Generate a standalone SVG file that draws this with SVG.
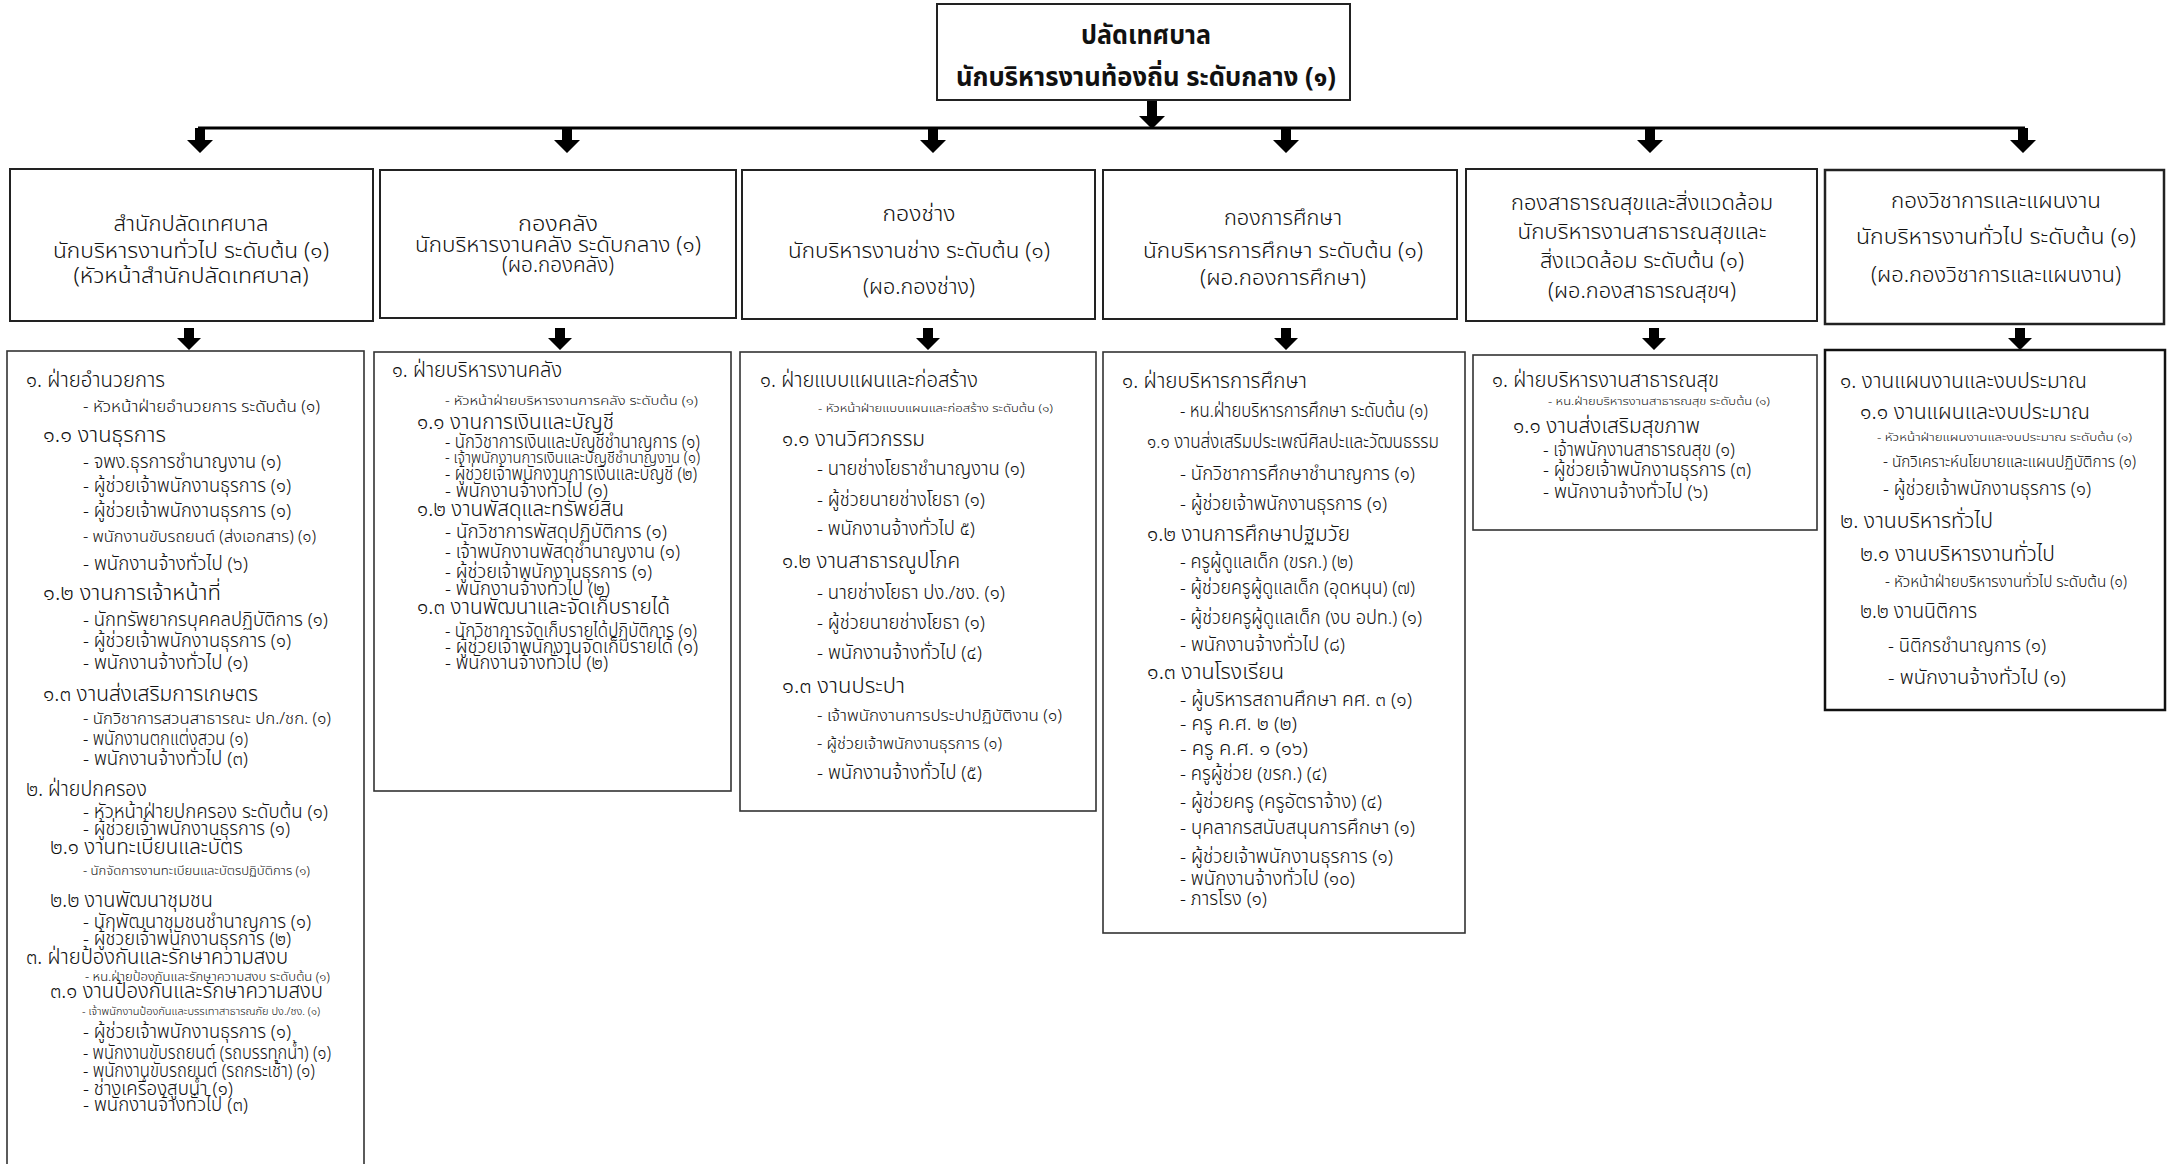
<svg xmlns="http://www.w3.org/2000/svg" width="2168" height="1164" viewBox="0 0 2168 1164">
<style>
text{font-family:"Noto Sans Thai","Noto Sans","DejaVu Sans",sans-serif;fill:#111;font-weight:300}
.box{fill:#fff;stroke:#222;stroke-width:2}
.lbox{fill:#fff;stroke:#333;stroke-width:1.6}
.arw{fill:#000}
.ln{stroke:#000;stroke-width:3;fill:none}
.top{font-size:27px;font-weight:bold;text-anchor:middle}
.hd{font-size:21px;text-anchor:middle}
.b1{font-size:22px}
.b2{font-size:19px}
.b3{font-size:16px}
.b4{font-size:13px}
.b5{font-size:11px}
</style>
<defs>
<path id="aUp" d="M-5,0 H5 V12 H13 L0,25 L-13,12 H-5 Z"/>
<path id="aLo" d="M-5,0 H5 V10 H12 L0,22 L-12,10 H-5 Z"/>
</defs>

<g id="connectors">
<path class="arw" d="M1147,100 H1157 V116 H1165 L1152,129 L1139,116 H1147 Z"/>
<line class="ln" x1="198" y1="128" x2="2025" y2="128"/>
<use href="#aUp" class="arw" x="200" y="128"/>
<use href="#aUp" class="arw" x="567" y="128"/>
<use href="#aUp" class="arw" x="933" y="128"/>
<use href="#aUp" class="arw" x="1286" y="128"/>
<use href="#aUp" class="arw" x="1650" y="128"/>
<use href="#aUp" class="arw" x="2023" y="128"/>
<use href="#aLo" class="arw" x="189" y="328"/>
<use href="#aLo" class="arw" x="560" y="328"/>
<use href="#aLo" class="arw" x="928" y="328"/>
<use href="#aLo" class="arw" x="1286" y="328"/>
<use href="#aLo" class="arw" x="1654" y="328"/>
<use href="#aLo" class="arw" x="2020" y="328"/>
</g>

<g id="n-top">
<rect class="box" x="937" y="4" width="413" height="96"/>
<text class="top" x="1146" y="44" textLength="130" lengthAdjust="spacingAndGlyphs">ปลัดเทศบาล</text>
<text class="top" x="1146" y="86" textLength="380" lengthAdjust="spacingAndGlyphs">นักบริหารงานท้องถิ่น ระดับกลาง (๑)</text>
</g>

<g id="n-h1">
<rect class="box" x="10" y="169" width="363" height="152"/>
<text class="hd" x="191" y="231" textLength="155" lengthAdjust="spacingAndGlyphs">สำนักปลัดเทศบาล</text>
<text class="hd" x="191" y="258" textLength="276" lengthAdjust="spacingAndGlyphs">นักบริหารงานทั่วไป ระดับต้น (๑)</text>
<text class="hd" x="191" y="283" textLength="235" lengthAdjust="spacingAndGlyphs">(หัวหน้าสำนักปลัดเทศบาล)</text>
</g>
<g id="n-h2">
<rect class="box" x="380" y="170" width="356" height="148"/>
<text class="hd" x="558" y="231" textLength="80" lengthAdjust="spacingAndGlyphs">กองคลัง</text>
<text class="hd" x="558" y="252" textLength="286" lengthAdjust="spacingAndGlyphs">นักบริหารงานคลัง ระดับกลาง (๑)</text>
<text class="hd" x="558" y="272" textLength="112" lengthAdjust="spacingAndGlyphs">(ผอ.กองคลัง)</text>
</g>
<g id="n-h3">
<rect class="box" x="742" y="170" width="353" height="149"/>
<text class="hd" x="919" y="221" textLength="73" lengthAdjust="spacingAndGlyphs">กองช่าง</text>
<text class="hd" x="919" y="258" textLength="262" lengthAdjust="spacingAndGlyphs">นักบริหารงานช่าง ระดับต้น (๑)</text>
<text class="hd" x="919" y="294" textLength="112" lengthAdjust="spacingAndGlyphs">(ผอ.กองช่าง)</text>
</g>
<g id="n-h4">
<rect class="box" x="1103" y="170" width="354" height="149"/>
<text class="hd" x="1283" y="225" textLength="118" lengthAdjust="spacingAndGlyphs">กองการศึกษา</text>
<text class="hd" x="1283" y="258" textLength="280" lengthAdjust="spacingAndGlyphs">นักบริหารการศึกษา ระดับต้น (๑)</text>
<text class="hd" x="1283" y="285" textLength="166" lengthAdjust="spacingAndGlyphs">(ผอ.กองการศึกษา)</text>
</g>
<g id="n-h5">
<rect class="box" x="1466" y="169" width="351" height="152"/>
<text class="hd" x="1642" y="210" textLength="262" lengthAdjust="spacingAndGlyphs">กองสาธารณสุขและสิ่งแวดล้อม</text>
<text class="hd" x="1642" y="239" textLength="249" lengthAdjust="spacingAndGlyphs">นักบริหารงานสาธารณสุขและ</text>
<text class="hd" x="1642" y="268" textLength="204" lengthAdjust="spacingAndGlyphs">สิ่งแวดล้อม ระดับต้น (๑)</text>
<text class="hd" x="1642" y="298" textLength="188" lengthAdjust="spacingAndGlyphs">(ผอ.กองสาธารณสุขฯ)</text>
</g>
<g id="n-h6">
<rect class="box" x="1825" y="170" width="339" height="154" style="stroke-width:2.5"/>
<text class="hd" x="1996" y="208" textLength="210" lengthAdjust="spacingAndGlyphs">กองวิชาการและแผนงาน</text>
<text class="hd" x="1996" y="244" textLength="280" lengthAdjust="spacingAndGlyphs">นักบริหารงานทั่วไป ระดับต้น (๑)</text>
<text class="hd" x="1996" y="282" textLength="250" lengthAdjust="spacingAndGlyphs">(ผอ.กองวิชาการและแผนงาน)</text>
</g>

<g id="n-l1">
<rect class="lbox" x="7" y="351" width="357" height="830"/>
<text class="b1" x="26" y="387" textLength="139" lengthAdjust="spacingAndGlyphs">๑. ฝ่ายอำนวยการ</text>
<text class="b3" x="83" y="412" textLength="237" lengthAdjust="spacingAndGlyphs">- หัวหน้าฝ่ายอำนวยการ ระดับต้น (๑)</text>
<text class="b1" x="43" y="442" textLength="123" lengthAdjust="spacingAndGlyphs">๑.๑ งานธุรการ</text>
<text class="b2" x="83" y="468" textLength="198" lengthAdjust="spacingAndGlyphs">- จพง.ธุรการชำนาญงาน (๑)</text>
<text class="b2" x="83" y="492" textLength="208" lengthAdjust="spacingAndGlyphs">- ผู้ช่วยเจ้าพนักงานธุรการ (๑)</text>
<text class="b2" x="83" y="517" textLength="208" lengthAdjust="spacingAndGlyphs">- ผู้ช่วยเจ้าพนักงานธุรการ (๑)</text>
<text class="b3" x="83" y="542" textLength="233" lengthAdjust="spacingAndGlyphs">- พนักงานขับรถยนต์ (ส่งเอกสาร) (๑)</text>
<text class="b2" x="83" y="570" textLength="165" lengthAdjust="spacingAndGlyphs">- พนักงานจ้างทั่วไป (๖)</text>
<text class="b1" x="43" y="600" textLength="178" lengthAdjust="spacingAndGlyphs">๑.๒ งานการเจ้าหน้าที่</text>
<text class="b2" x="83" y="626" textLength="245" lengthAdjust="spacingAndGlyphs">- นักทรัพยากรบุคคลปฏิบัติการ (๑)</text>
<text class="b2" x="83" y="647" textLength="208" lengthAdjust="spacingAndGlyphs">- ผู้ช่วยเจ้าพนักงานธุรการ (๑)</text>
<text class="b2" x="83" y="669" textLength="165" lengthAdjust="spacingAndGlyphs">- พนักงานจ้างทั่วไป (๑)</text>
<text class="b1" x="43" y="701" textLength="215" lengthAdjust="spacingAndGlyphs">๑.๓ งานส่งเสริมการเกษตร</text>
<text class="b3" x="83" y="724" textLength="248" lengthAdjust="spacingAndGlyphs">- นักวิชาการสวนสาธารณะ ปก./ชก. (๑)</text>
<text class="b2" x="83" y="745" textLength="165" lengthAdjust="spacingAndGlyphs">- พนักงานตกแต่งสวน (๑)</text>
<text class="b2" x="83" y="765" textLength="165" lengthAdjust="spacingAndGlyphs">- พนักงานจ้างทั่วไป (๓)</text>
<text class="b1" x="26" y="796" textLength="121" lengthAdjust="spacingAndGlyphs">๒. ฝ่ายปกครอง</text>
<text class="b2" x="83" y="818" textLength="245" lengthAdjust="spacingAndGlyphs">- หัวหน้าฝ่ายปกครอง ระดับต้น (๑)</text>
<text class="b2" x="83" y="835" textLength="207" lengthAdjust="spacingAndGlyphs">- ผู้ช่วยเจ้าพนักงานธุรการ (๑)</text>
<text class="b1" x="50" y="854" textLength="193" lengthAdjust="spacingAndGlyphs">๒.๑ งานทะเบียนและบัตร</text>
<text class="b4" x="83" y="875" textLength="227" lengthAdjust="spacingAndGlyphs">- นักจัดการงานทะเบียนและบัตรปฏิบัติการ (๑)</text>
<text class="b1" x="50" y="907" textLength="163" lengthAdjust="spacingAndGlyphs">๒.๒ งานพัฒนาชุมชน</text>
<text class="b2" x="83" y="928" textLength="228" lengthAdjust="spacingAndGlyphs">- นักพัฒนาชุมชนชำนาญการ (๑)</text>
<text class="b2" x="83" y="945" textLength="208" lengthAdjust="spacingAndGlyphs">- ผู้ช่วยเจ้าพนักงานธุรการ (๒)</text>
<text class="b1" x="26" y="964" textLength="262" lengthAdjust="spacingAndGlyphs">๓. ฝ่ายป้องกันและรักษาความสงบ</text>
<text class="b4" x="85" y="981" textLength="245" lengthAdjust="spacingAndGlyphs">- หน.ฝ่ายป้องกันและรักษาความสงบ ระดับต้น (๑)</text>
<text class="b1" x="50" y="998" textLength="273" lengthAdjust="spacingAndGlyphs">๓.๑ งานป้องกันและรักษาความสงบ</text>
<text class="b5" x="82" y="1015" textLength="238" lengthAdjust="spacingAndGlyphs">- เจ้าพนักงานป้องกันและบรรเทาสาธารณภัย ปง./ชง. (๑)</text>
<text class="b2" x="83" y="1038" textLength="208" lengthAdjust="spacingAndGlyphs">- ผู้ช่วยเจ้าพนักงานธุรการ (๑)</text>
<text class="b2" x="83" y="1059" textLength="248" lengthAdjust="spacingAndGlyphs">- พนักงานขับรถยนต์ (รถบรรทุกน้ำ) (๑)</text>
<text class="b2" x="83" y="1077" textLength="232" lengthAdjust="spacingAndGlyphs">- พนักงานขับรถยนต์ (รถกระเช้า) (๑)</text>
<text class="b2" x="83" y="1095" textLength="150" lengthAdjust="spacingAndGlyphs">- ช่างเครื่องสูบน้ำ (๑)</text>
<text class="b2" x="83" y="1111" textLength="165" lengthAdjust="spacingAndGlyphs">- พนักงานจ้างทั่วไป (๓)</text>
</g>

<g id="n-l2">
<rect class="lbox" x="374" y="352" width="357" height="439"/>
<text class="b1" x="392" y="377" textLength="170" lengthAdjust="spacingAndGlyphs">๑. ฝ่ายบริหารงานคลัง</text>
<text class="b4" x="445" y="405" textLength="253" lengthAdjust="spacingAndGlyphs">- หัวหน้าฝ่ายบริหารงานการคลัง ระดับต้น (๑)</text>
<text class="b1" x="417" y="429" textLength="197" lengthAdjust="spacingAndGlyphs">๑.๑ งานการเงินและบัญชี</text>
<text class="b2" x="445" y="448" textLength="255" lengthAdjust="spacingAndGlyphs">- นักวิชาการเงินและบัญชีชำนาญการ (๑)</text>
<text class="b3" x="445" y="463" textLength="255" lengthAdjust="spacingAndGlyphs">- เจ้าพนักงานการเงินและบัญชีชำนาญงาน (๑)</text>
<text class="b2" x="445" y="480" textLength="252" lengthAdjust="spacingAndGlyphs">- ผู้ช่วยเจ้าพนักงานการเงินและบัญชี (๒)</text>
<text class="b2" x="445" y="497" textLength="163" lengthAdjust="spacingAndGlyphs">- พนักงานจ้างทั่วไป (๑)</text>
<text class="b1" x="417" y="516" textLength="207" lengthAdjust="spacingAndGlyphs">๑.๒ งานพัสดุและทรัพย์สิน</text>
<text class="b2" x="445" y="538" textLength="222" lengthAdjust="spacingAndGlyphs">- นักวิชาการพัสดุปฏิบัติการ (๑)</text>
<text class="b2" x="445" y="558" textLength="235" lengthAdjust="spacingAndGlyphs">- เจ้าพนักงานพัสดุชำนาญงาน (๑)</text>
<text class="b2" x="445" y="578" textLength="207" lengthAdjust="spacingAndGlyphs">- ผู้ช่วยเจ้าพนักงานธุรการ (๑)</text>
<text class="b2" x="445" y="595" textLength="165" lengthAdjust="spacingAndGlyphs">- พนักงานจ้างทั่วไป (๒)</text>
<text class="b1" x="417" y="614" textLength="253" lengthAdjust="spacingAndGlyphs">๑.๓ งานพัฒนาและจัดเก็บรายได้</text>
<text class="b2" x="445" y="637" textLength="252" lengthAdjust="spacingAndGlyphs">- นักวิชาการจัดเก็บรายได้ปฏิบัติการ (๑)</text>
<text class="b2" x="445" y="653" textLength="253" lengthAdjust="spacingAndGlyphs">- ผู้ช่วยเจ้าพนักงานจัดเก็บรายได้ (๑)</text>
<text class="b2" x="445" y="669" textLength="163" lengthAdjust="spacingAndGlyphs">- พนักงานจ้างทั่วไป (๒)</text>
</g>

<g id="n-l3">
<rect class="lbox" x="740" y="352" width="356" height="459"/>
<text class="b1" x="760" y="387" textLength="218" lengthAdjust="spacingAndGlyphs">๑. ฝ่ายแบบแผนและก่อสร้าง</text>
<text class="b5" x="818" y="412" textLength="235" lengthAdjust="spacingAndGlyphs">- หัวหน้าฝ่ายแบบแผนและก่อสร้าง ระดับต้น (๑)</text>
<text class="b1" x="782" y="446" textLength="143" lengthAdjust="spacingAndGlyphs">๑.๑ งานวิศวกรรม</text>
<text class="b2" x="817" y="475" textLength="208" lengthAdjust="spacingAndGlyphs">- นายช่างโยธาชำนาญงาน (๑)</text>
<text class="b2" x="817" y="506" textLength="168" lengthAdjust="spacingAndGlyphs">- ผู้ช่วยนายช่างโยธา (๑)</text>
<text class="b2" x="817" y="535" textLength="158" lengthAdjust="spacingAndGlyphs">- พนักงานจ้างทั่วไป ๕)</text>
<text class="b1" x="782" y="568" textLength="178" lengthAdjust="spacingAndGlyphs">๑.๒ งานสาธารณูปโภค</text>
<text class="b2" x="817" y="599" textLength="188" lengthAdjust="spacingAndGlyphs">- นายช่างโยธา ปง./ชง. (๑)</text>
<text class="b2" x="817" y="629" textLength="168" lengthAdjust="spacingAndGlyphs">- ผู้ช่วยนายช่างโยธา (๑)</text>
<text class="b2" x="817" y="659" textLength="165" lengthAdjust="spacingAndGlyphs">- พนักงานจ้างทั่วไป (๔)</text>
<text class="b1" x="782" y="693" textLength="123" lengthAdjust="spacingAndGlyphs">๑.๓ งานประปา</text>
<text class="b3" x="817" y="721" textLength="245" lengthAdjust="spacingAndGlyphs">- เจ้าพนักงานการประปาปฏิบัติงาน (๑)</text>
<text class="b3" x="817" y="749" textLength="185" lengthAdjust="spacingAndGlyphs">- ผู้ช่วยเจ้าพนักงานธุรการ (๑)</text>
<text class="b2" x="817" y="779" textLength="165" lengthAdjust="spacingAndGlyphs">- พนักงานจ้างทั่วไป (๕)</text>
</g>

<g id="n-l4">
<rect class="lbox" x="1103" y="352" width="362" height="581"/>
<text class="b1" x="1122" y="388" textLength="185" lengthAdjust="spacingAndGlyphs">๑. ฝ่ายบริหารการศึกษา</text>
<text class="b2" x="1180" y="417" textLength="248" lengthAdjust="spacingAndGlyphs">- หน.ฝ่ายบริหารการศึกษา ระดับต้น (๑)</text>
<text class="b2" x="1147" y="448" textLength="292" lengthAdjust="spacingAndGlyphs">๑.๑  งานส่งเสริมประเพณีศิลปะและวัฒนธรรม</text>
<text class="b2" x="1180" y="480" textLength="235" lengthAdjust="spacingAndGlyphs">- นักวิชาการศึกษาชำนาญการ (๑)</text>
<text class="b2" x="1180" y="510" textLength="207" lengthAdjust="spacingAndGlyphs">- ผู้ช่วยเจ้าพนักงานธุรการ (๑)</text>
<text class="b1" x="1147" y="541" textLength="203" lengthAdjust="spacingAndGlyphs">๑.๒  งานการศึกษาปฐมวัย</text>
<text class="b2" x="1180" y="568" textLength="173" lengthAdjust="spacingAndGlyphs">- ครูผู้ดูแลเด็ก (ขรก.) (๒)</text>
<text class="b2" x="1180" y="594" textLength="235" lengthAdjust="spacingAndGlyphs">- ผู้ช่วยครูผู้ดูแลเด็ก (อุดหนุน) (๗)</text>
<text class="b2" x="1180" y="624" textLength="242" lengthAdjust="spacingAndGlyphs">- ผู้ช่วยครูผู้ดูแลเด็ก (งบ อปท.) (๑)</text>
<text class="b2" x="1180" y="651" textLength="165" lengthAdjust="spacingAndGlyphs">- พนักงานจ้างทั่วไป (๘)</text>
<text class="b1" x="1147" y="679" textLength="137" lengthAdjust="spacingAndGlyphs">๑.๓  งานโรงเรียน</text>
<text class="b2" x="1180" y="706" textLength="232" lengthAdjust="spacingAndGlyphs">- ผู้บริหารสถานศึกษา คศ. ๓ (๑)</text>
<text class="b2" x="1180" y="730" textLength="117" lengthAdjust="spacingAndGlyphs">- ครู ค.ศ. ๒ (๒)</text>
<text class="b2" x="1180" y="755" textLength="128" lengthAdjust="spacingAndGlyphs">- ครู ค.ศ. ๑ (๑๖)</text>
<text class="b2" x="1180" y="780" textLength="147" lengthAdjust="spacingAndGlyphs">- ครูผู้ช่วย (ขรก.) (๔)</text>
<text class="b2" x="1180" y="808" textLength="202" lengthAdjust="spacingAndGlyphs">- ผู้ช่วยครู (ครูอัตราจ้าง) (๔)</text>
<text class="b2" x="1180" y="834" textLength="235" lengthAdjust="spacingAndGlyphs">- บุคลากรสนับสนุนการศึกษา (๑)</text>
<text class="b2" x="1180" y="863" textLength="213" lengthAdjust="spacingAndGlyphs">- ผู้ช่วยเจ้าพนักงานธุรการ (๑)</text>
<text class="b2" x="1180" y="885" textLength="175" lengthAdjust="spacingAndGlyphs">- พนักงานจ้างทั่วไป (๑๐)</text>
<text class="b2" x="1180" y="905" textLength="87" lengthAdjust="spacingAndGlyphs">- ภารโรง (๑)</text>
</g>

<g id="n-l5">
<rect class="lbox" x="1473" y="355" width="344" height="175"/>
<text class="b1" x="1492" y="387" textLength="227" lengthAdjust="spacingAndGlyphs">๑. ฝ่ายบริหารงานสาธารณสุข</text>
<text class="b5" x="1548" y="405" textLength="222" lengthAdjust="spacingAndGlyphs">- หน.ฝ่ายบริหารงานสาธารณสุข ระดับต้น (๑)</text>
<text class="b1" x="1513" y="433" textLength="187" lengthAdjust="spacingAndGlyphs">๑.๑ งานส่งเสริมสุขภาพ</text>
<text class="b2" x="1543" y="456" textLength="192" lengthAdjust="spacingAndGlyphs">- เจ้าพนักงานสาธารณสุข (๑)</text>
<text class="b2" x="1543" y="476" textLength="208" lengthAdjust="spacingAndGlyphs">- ผู้ช่วยเจ้าพนักงานธุรการ (๓)</text>
<text class="b2" x="1543" y="498" textLength="165" lengthAdjust="spacingAndGlyphs">- พนักงานจ้างทั่วไป (๖)</text>
</g>

<g id="n-l6">
<rect class="lbox" x="1825" y="350" width="340" height="360" style="stroke:#111;stroke-width:2.5"/>
<text class="b1" x="1840" y="388" textLength="247" lengthAdjust="spacingAndGlyphs">๑. งานแผนงานและงบประมาณ</text>
<text class="b1" x="1860" y="419" textLength="230" lengthAdjust="spacingAndGlyphs">๑.๑ งานแผนและงบประมาณ</text>
<text class="b5" x="1877" y="441" textLength="255" lengthAdjust="spacingAndGlyphs">- หัวหน้าฝ่ายแผนงานและงบประมาณ ระดับต้น (๑)</text>
<text class="b3" x="1883" y="467" textLength="253" lengthAdjust="spacingAndGlyphs">- นักวิเคราะห์นโยบายและแผนปฏิบัติการ (๑)</text>
<text class="b2" x="1883" y="495" textLength="208" lengthAdjust="spacingAndGlyphs">- ผู้ช่วยเจ้าพนักงานธุรการ (๑)</text>
<text class="b1" x="1840" y="528" textLength="153" lengthAdjust="spacingAndGlyphs">๒. งานบริหารทั่วไป</text>
<text class="b1" x="1860" y="561" textLength="195" lengthAdjust="spacingAndGlyphs">๒.๑ งานบริหารงานทั่วไป</text>
<text class="b3" x="1885" y="587" textLength="242" lengthAdjust="spacingAndGlyphs">- หัวหน้าฝ่ายบริหารงานทั่วไป ระดับต้น (๑)</text>
<text class="b1" x="1860" y="618" textLength="117" lengthAdjust="spacingAndGlyphs">๒.๒ งานนิติการ</text>
<text class="b2" x="1888" y="652" textLength="158" lengthAdjust="spacingAndGlyphs">- นิติกรชำนาญการ (๑)</text>
<text class="b2" x="1888" y="684" textLength="178" lengthAdjust="spacingAndGlyphs">- พนักงานจ้างทั่วไป (๑)</text>
</g>
</svg>
